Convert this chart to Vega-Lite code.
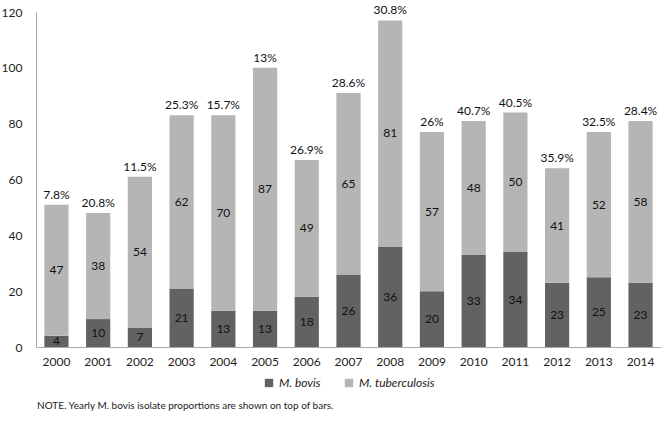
{
  "$schema": "https://vega.github.io/schema/vega-lite/v6.json",
  "width": 625,
  "height": 335,
  "padding": {"left": 1, "top": 4, "right": 6, "bottom": 5},
  "background": "white",
  "config": {
    "font": "Lato",
    "view": {"stroke": null},
    "axis": {"labelFont": "Lato", "labelFontSize": 12, "labelColor": "#222", "domainColor": "#aaa", "ticks": false, "grid": false, "title": null},
    "legend": {"layout": {"bottom": {"anchor": "middle"}}}
  },
  "data": {
    "values": [
      {"year": "2000", "species": "M. bovis", "n": 4, "pct": "7.8%"},
      {"year": "2000", "species": "M. tuberculosis", "n": 47, "pct": "7.8%"},
      {"year": "2001", "species": "M. bovis", "n": 10, "pct": "20.8%"},
      {"year": "2001", "species": "M. tuberculosis", "n": 38, "pct": "20.8%"},
      {"year": "2002", "species": "M. bovis", "n": 7, "pct": "11.5%"},
      {"year": "2002", "species": "M. tuberculosis", "n": 54, "pct": "11.5%"},
      {"year": "2003", "species": "M. bovis", "n": 21, "pct": "25.3%"},
      {"year": "2003", "species": "M. tuberculosis", "n": 62, "pct": "25.3%"},
      {"year": "2004", "species": "M. bovis", "n": 13, "pct": "15.7%"},
      {"year": "2004", "species": "M. tuberculosis", "n": 70, "pct": "15.7%"},
      {"year": "2005", "species": "M. bovis", "n": 13, "pct": "13%"},
      {"year": "2005", "species": "M. tuberculosis", "n": 87, "pct": "13%"},
      {"year": "2006", "species": "M. bovis", "n": 18, "pct": "26.9%"},
      {"year": "2006", "species": "M. tuberculosis", "n": 49, "pct": "26.9%"},
      {"year": "2007", "species": "M. bovis", "n": 26, "pct": "28.6%"},
      {"year": "2007", "species": "M. tuberculosis", "n": 65, "pct": "28.6%"},
      {"year": "2008", "species": "M. bovis", "n": 36, "pct": "30.8%"},
      {"year": "2008", "species": "M. tuberculosis", "n": 81, "pct": "30.8%"},
      {"year": "2009", "species": "M. bovis", "n": 20, "pct": "26%"},
      {"year": "2009", "species": "M. tuberculosis", "n": 57, "pct": "26%"},
      {"year": "2010", "species": "M. bovis", "n": 33, "pct": "40.7%"},
      {"year": "2010", "species": "M. tuberculosis", "n": 48, "pct": "40.7%"},
      {"year": "2011", "species": "M. bovis", "n": 34, "pct": "40.5%"},
      {"year": "2011", "species": "M. tuberculosis", "n": 50, "pct": "40.5%"},
      {"year": "2012", "species": "M. bovis", "n": 23, "pct": "35.9%"},
      {"year": "2012", "species": "M. tuberculosis", "n": 41, "pct": "35.9%"},
      {"year": "2013", "species": "M. bovis", "n": 25, "pct": "32.5%"},
      {"year": "2013", "species": "M. tuberculosis", "n": 52, "pct": "32.5%"},
      {"year": "2014", "species": "M. bovis", "n": 23, "pct": "28.4%"},
      {"year": "2014", "species": "M. tuberculosis", "n": 58, "pct": "28.4%"}
    ]
  },
  "encoding": {
    "x": {"field": "year", "type": "ordinal", "scale": {"paddingInner": 0.42, "paddingOuter": 0.2}, "axis": {"labelAngle": 0, "labelPadding": 9}}
  },
  "layer": [
    {
      "mark": {"type": "bar"},
      "encoding": {
        "y": {"field": "n", "type": "quantitative", "stack": "zero", "scale": {"domain": [0, 120], "nice": false}, "axis": {"values": [0, 20, 40, 60, 80, 100, 120], "labelPadding": 14, "domainColor": "#aaa"}},
        "order": {"field": "species", "type": "nominal", "sort": "ascending"},
        "color": {"field": "species", "type": "nominal", "scale": {"domain": ["M. bovis", "M. tuberculosis"], "range": ["#626262", "#b5b5b5"]},
          "legend": {"orient": "bottom", "direction": "horizontal", "title": null, "symbolType": "square", "symbolSize": 70, "labelFontStyle": "italic", "labelFontSize": 12, "labelColor": "#222", "columnPadding": 22, "offset": 10}}
      }
    },
    {
      "transform": [
        {"stack": "n", "groupby": ["year"], "sort": [{"field": "species"}], "as": ["n0", "n1"]},
        {"calculate": "(datum.n0 + datum.n1) / 2", "as": "mid"}
      ],
      "mark": {"type": "text", "fontSize": 12, "color": "#111", "baseline": "middle"},
      "encoding": {
        "y": {"field": "mid", "type": "quantitative"},
        "text": {"field": "n", "type": "quantitative"}
      }
    },
    {
      "transform": [
        {"aggregate": [{"op": "sum", "field": "n", "as": "total"}], "groupby": ["year", "pct"]}
      ],
      "mark": {"type": "text", "fontSize": 12, "color": "#111", "baseline": "bottom", "dy": -3},
      "encoding": {
        "y": {"field": "total", "type": "quantitative"},
        "text": {"field": "pct"}
      }
    }
  ],
  "title": {
    "text": "NOTE. Yearly M. bovis isolate proportions are shown on top of bars.",
    "orient": "bottom",
    "anchor": "start",
    "frame": "group",
    "fontSize": 10,
    "fontWeight": "normal",
    "color": "#222",
    "offset": 12,
    "dx": 1
  }
}
